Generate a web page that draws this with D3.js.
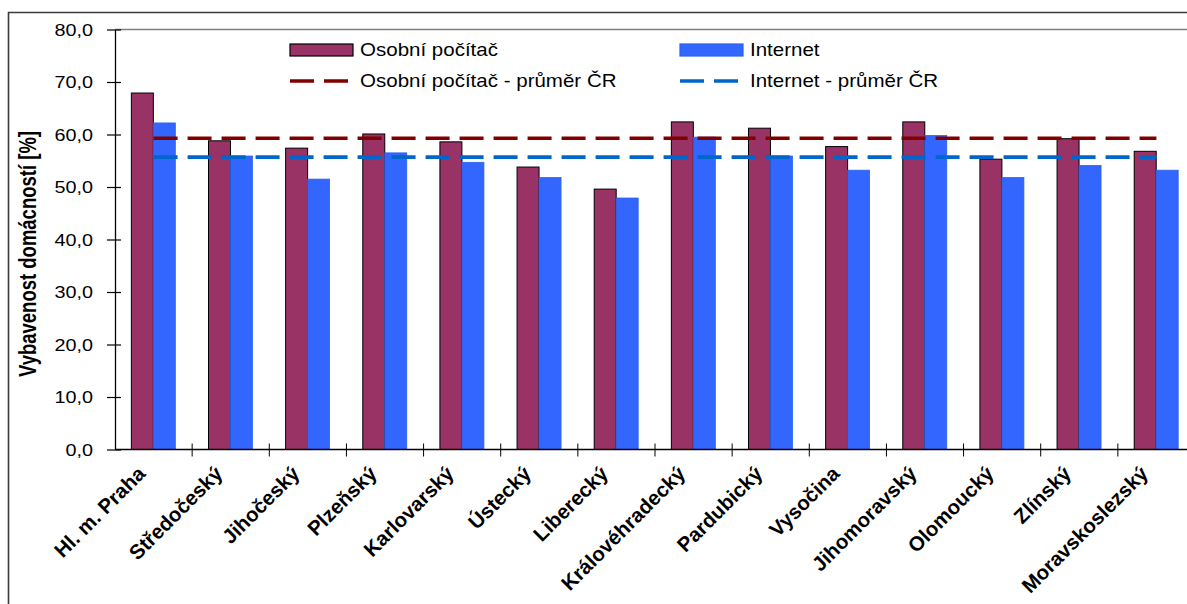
<!DOCTYPE html>
<html><head><meta charset="utf-8">
<script src="https://cdn.jsdelivr.net/npm/d3@7"></script>
<style>
body{margin:0;background:#fff}
svg{display:block}
text{font-family:"Liberation Sans",Arial,sans-serif;fill:#000}
</style></head>
<body><svg id="c" width="1187" height="604"></svg>
<script>
const categories = ["Hl. m. Praha","Středočeský","Jihočeský","Plzeňský","Karlovarský","Ústecký","Liberecký","Královéhradecký","Pardubický","Vysočina","Jihomoravský","Olomoucký","Zlínský","Moravskoslezský"];
const pcValues = [67.9,58.8,57.4,60.1,58.6,53.8,49.6,62.4,61.2,57.7,62.4,55.3,59.2,56.8];
const internetValues = [62.2,55.9,51.5,56.5,54.7,51.8,47.9,59.5,55.9,53.2,59.8,51.8,54.1,53.2];
const pcAverage = 59.3;
const internetAverage = 55.7;
const yTicks = [0,10,20,30,40,50,60,70,80];
const seriesNames = ["Osobní počítač","Internet"];
const averageNames = ["Osobní počítač - průměr ČR","Internet - průměr ČR"];
const yTitle = "Vybavenost domácností [%]";

const W=1187,H=604,SX=1.2;
const colors = {pc:"#993366", internet:"#3366FF", pcAvg:"#800000", intAvg:"#0066CC"};
const svg=d3.select("#c");
svg.append("rect").attr("width",W).attr("height",H).attr("fill","#fff");
svg.append("path").attr("d","M8.5,604 V12.5 H1187").attr("fill","none").attr("stroke","#3a3a3a").attr("stroke-width",1.6);

const plot={left:115,right:1195,top:29.5,bottom:449.5};
const x=d3.scaleBand().domain(categories).range([plot.left,plot.right]);
const bw=x.bandwidth();
const x1=d3.scaleBand().domain(["pc","internet"]).range([bw*0.212,bw*0.782]);
const y=d3.scaleLinear().domain([0,80]).range([plot.bottom,plot.top]);

svg.append("line").attr("x1",plot.left).attr("x2",plot.right).attr("y1",plot.top).attr("y2",plot.top)
  .attr("stroke","#808080").attr("stroke-width",1.5);

const rows = categories.map((c,i)=>({c, pc:pcValues[i], internet:internetValues[i]}));
const g = svg.append("g");
const grp = g.selectAll("g.cat").data(rows).join("g").attr("transform",d=>`translate(${x(d.c)},0)`);
grp.append("rect").attr("x",x1("pc")).attr("width",x1.bandwidth())
  .attr("y",d=>y(d.pc)).attr("height",d=>y(0)-y(d.pc))
  .attr("fill",colors.pc).attr("stroke","#000").attr("stroke-width",1);
grp.append("rect").attr("x",x1("internet")).attr("width",x1.bandwidth())
  .attr("y",d=>y(d.internet)).attr("height",d=>y(0)-y(d.internet))
  .attr("fill",colors.internet).attr("stroke","#2a62e6").attr("stroke-width",0.8);

// average lines
const xa = x(categories[0])+bw/2, xb = x(categories[categories.length-1])+bw/2;
[[pcAverage,colors.pcAvg],[internetAverage,colors.intAvg]].forEach(([v,col])=>{
  svg.append("line").attr("x1",xa).attr("x2",xb).attr("y1",y(v)).attr("y2",y(v))
    .attr("stroke",col).attr("stroke-width",3.6).attr("stroke-dasharray","24,10");
});

// y axis
const ya = svg.append("g").attr("transform",`translate(${plot.left},0)`)
  .call(d3.axisLeft(y).tickValues(yTicks).tickSize(0).tickFormat(d=>d.toFixed(1).replace(".",",")));
ya.select(".domain").attr("stroke","#000").attr("stroke-width",1.3);
ya.selectAll(".tick line").attr("x1",-8).attr("x2",6).attr("stroke","#000").attr("stroke-width",1.2);
ya.selectAll(".tick text").attr("x",null).attr("dy","0.36em")
  .attr("transform","translate(-22,0) scale("+SX+",1)")
  .style("font-size","16.5px").style("font-family",'"Liberation Sans",Arial,sans-serif').attr("fill","#000");

// x axis
svg.append("line").attr("x1",plot.left).attr("x2",plot.right).attr("y1",plot.bottom).attr("y2",plot.bottom)
  .attr("stroke","#000").attr("stroke-width",1.5);
svg.append("g").selectAll("line").data(categories.slice(1)).join("line")
  .attr("x1",d=>x(d)).attr("x2",d=>x(d)).attr("y1",plot.bottom-6).attr("y2",plot.bottom+7)
  .attr("stroke","#000").attr("stroke-width",1);
svg.append("g").selectAll("text").data(categories).join("text")
  .attr("transform",d=>`translate(${x(d)+bw/2-7},475) rotate(-45)`)
  .attr("text-anchor","end").attr("font-weight","bold").style("font-size","20.5px").text(d=>d);

// y title
svg.append("text").attr("transform",`translate(28,254) scale(1.25,1) rotate(-90)`)
  .attr("text-anchor","middle").attr("dy","0.35em").attr("font-weight","bold").style("font-size","18.5px").text(yTitle);

// legend
const leg = [
  {label:seriesNames[0], type:"bar", color:colors.pc, stroke:"#000", x:290, y:50},
  {label:seriesNames[1], type:"bar", color:colors.internet, stroke:"#2a62e6", x:680, y:50},
  {label:averageNames[0], type:"line", color:colors.pcAvg, x:290, y:81},
  {label:averageNames[1], type:"line", color:colors.intAvg, x:680, y:81}
];
leg.forEach(d=>{
  if(d.type==="bar"){
    svg.append("rect").attr("x",d.x).attr("y",d.y-6).attr("width",63).attr("height",12)
      .attr("fill",d.color).attr("stroke",d.stroke).attr("stroke-width",1.2);
  } else {
    svg.append("line").attr("x1",d.x).attr("x2",d.x+63).attr("y1",d.y).attr("y2",d.y)
      .attr("stroke",d.color).attr("stroke-width",3.6).attr("stroke-dasharray","24,10");
  }
  svg.append("text").attr("transform",`translate(${d.x+70},${d.y}) scale(1.14,1)`)
    .attr("dy","0.36em").style("font-size","18px").text(d.label);
});
</script></body></html>
